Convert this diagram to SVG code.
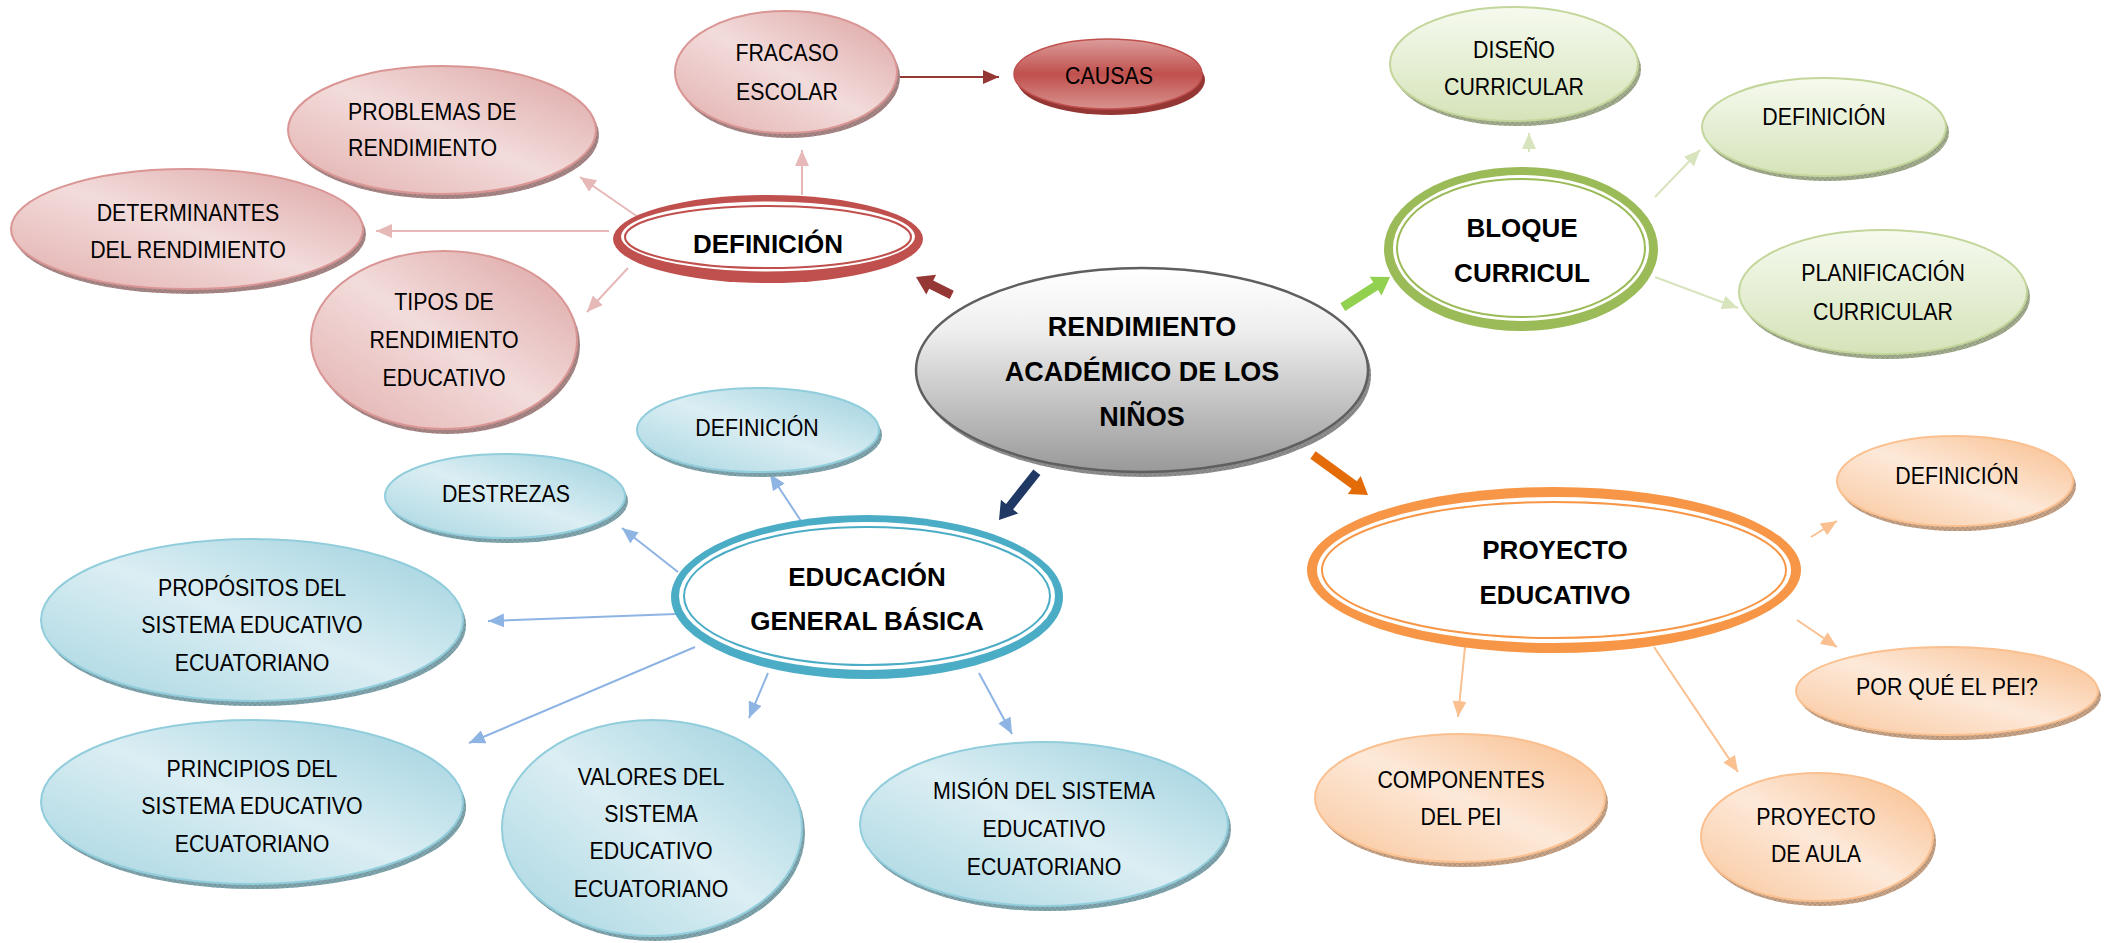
<svg xmlns="http://www.w3.org/2000/svg" width="2114" height="943" viewBox="0 0 2114 943">
<style>
  .t { font-family: "Liberation Sans", Arial, sans-serif; font-size: 24px; fill: #000; text-anchor: middle; }
  .ts { font-family: "Liberation Sans", Arial, sans-serif; font-size: 24px; fill: #000; text-anchor: start; }
  .b { font-family: "Liberation Sans", Arial, sans-serif; font-size: 26px; font-weight: bold; fill: #000; text-anchor: middle; }
  .bc { font-family: "Liberation Sans", Arial, sans-serif; font-size: 27px; font-weight: bold; fill: #000; text-anchor: middle; }
  .pink { fill: url(#gPink); stroke: #D99694; stroke-width: 2; }
  .blue { fill: url(#gBlue); stroke: #92CDDC; stroke-width: 2; }
  .orange { fill: url(#gOrange); stroke: #FAC090; stroke-width: 2; }
  .green { fill: url(#gGreen); stroke: #C3D69B; stroke-width: 2; }
  .shPink { fill: #A98686; }
  .shBlue { fill: #7FA6AF; }
  .shOrange { fill: #C9A386; }
  .shGreen { fill: #A2AD8D; }
  .shGray { fill: #8E8E8E; }
  .hatch { fill: url(#hatch); }
  .cPink { stroke: #E6B9B8; stroke-width: 2; fill: none; marker-end: url(#mPink); }
  .cGreen { stroke: #D7E4BD; stroke-width: 2; fill: none; marker-end: url(#mGreen); }
  .cBlue { stroke: #8EB4E3; stroke-width: 2; fill: none; marker-end: url(#mBlue); }
  .cOrange { stroke: #FAC090; stroke-width: 2; fill: none; marker-end: url(#mOrange); }
  .cDark { stroke: #953735; stroke-width: 2; fill: none; marker-end: url(#mDark); }
</style>
<defs>
  <linearGradient id="gPink" x1="1" y1="0" x2="0" y2="1">
    <stop offset="0" stop-color="#DCA3A2"/>
    <stop offset="0.5" stop-color="#F2DCDB"/>
    <stop offset="1" stop-color="#E2AEAD"/>
  </linearGradient>
  <linearGradient id="gBlue" x1="1" y1="0" x2="0" y2="1">
    <stop offset="0" stop-color="#9CD0DE"/>
    <stop offset="0.5" stop-color="#DBEEF3"/>
    <stop offset="1" stop-color="#A6D5E1"/>
  </linearGradient>
  <linearGradient id="gOrange" x1="1" y1="0" x2="0" y2="1">
    <stop offset="0" stop-color="#F8BC8A"/>
    <stop offset="0.5" stop-color="#FDE9D9"/>
    <stop offset="1" stop-color="#F9C69B"/>
  </linearGradient>
  <linearGradient id="gGreen" x1="0" y1="0" x2="0" y2="1">
    <stop offset="0" stop-color="#F6FAEF"/>
    <stop offset="1" stop-color="#D5E3B9"/>
  </linearGradient>
  <linearGradient id="gGray" x1="0" y1="0" x2="0" y2="1">
    <stop offset="0" stop-color="#FFFFFF"/>
    <stop offset="0.3" stop-color="#EFEFEF"/>
    <stop offset="1" stop-color="#999999"/>
  </linearGradient>
  <linearGradient id="gCausas" x1="0" y1="0" x2="0" y2="1">
    <stop offset="0" stop-color="#DC9D9B"/>
    <stop offset="0.5" stop-color="#C0504D"/>
    <stop offset="1" stop-color="#D8928F"/>
  </linearGradient>
  <pattern id="hatch" width="5" height="5" patternUnits="userSpaceOnUse">
    <path d="M0,5 L5,0 M0,0 L5,5" stroke="#555555" stroke-width="0.6" stroke-opacity="0.35"/>
  </pattern>
  <marker id="mPink" markerUnits="userSpaceOnUse" markerWidth="16" markerHeight="14" refX="16" refY="7" orient="auto">
    <path d="M0,0 L16,7 L0,14 Z" fill="#E6B9B8"/>
  </marker>
  <marker id="mGreen" markerUnits="userSpaceOnUse" markerWidth="16" markerHeight="14" refX="16" refY="7" orient="auto">
    <path d="M0,0 L16,7 L0,14 Z" fill="#D7E4BD"/>
  </marker>
  <marker id="mBlue" markerUnits="userSpaceOnUse" markerWidth="16" markerHeight="14" refX="16" refY="7" orient="auto">
    <path d="M0,0 L16,7 L0,14 Z" fill="#8EB4E3"/>
  </marker>
  <marker id="mOrange" markerUnits="userSpaceOnUse" markerWidth="16" markerHeight="14" refX="16" refY="7" orient="auto">
    <path d="M0,0 L16,7 L0,14 Z" fill="#FAC090"/>
  </marker>
  <marker id="mDark" markerUnits="userSpaceOnUse" markerWidth="16" markerHeight="14" refX="16" refY="7" orient="auto">
    <path d="M0,0 L16,7 L0,14 Z" fill="#953735"/>
  </marker>
</defs>

<rect x="0" y="0" width="2114" height="943" fill="#FFFFFF"/>

<!-- connectors -->
<g id="connectors">
  <line class="cPink" x1="802" y1="195" x2="802" y2="150"/>
  <line class="cPink" x1="638" y1="217" x2="580" y2="177"/>
  <line class="cPink" x1="609" y1="231" x2="376" y2="231"/>
  <line class="cPink" x1="628" y1="268" x2="587" y2="312"/>
  <line class="cDark" x1="899" y1="77" x2="999" y2="77"/>
  <line class="cGreen" x1="1529" y1="152" x2="1529" y2="133"/>
  <line class="cGreen" x1="1655" y1="197" x2="1700" y2="150"/>
  <line class="cGreen" x1="1655" y1="277" x2="1738" y2="308"/>
  <line class="cBlue" x1="801" y1="521" x2="770" y2="474"/>
  <line class="cBlue" x1="678" y1="572" x2="622" y2="528"/>
  <line class="cBlue" x1="676" y1="614" x2="488" y2="621"/>
  <line class="cBlue" x1="695" y1="647" x2="469" y2="743"/>
  <line class="cBlue" x1="768" y1="673" x2="749" y2="718"/>
  <line class="cBlue" x1="979" y1="673" x2="1012" y2="734"/>
  <line class="cOrange" x1="1811" y1="537" x2="1837" y2="521"/>
  <line class="cOrange" x1="1797" y1="620" x2="1837" y2="647"/>
  <line class="cOrange" x1="1465" y1="647" x2="1458" y2="717"/>
  <line class="cOrange" x1="1654" y1="647" x2="1738" y2="772"/>
  <!-- thick arrows from the central node -->
  <path d="M-40,-4.5 H-17 V-11 L0,0 L-17,11 V4.5 H-40 Z" fill="#953735" transform="translate(916 277) rotate(206.57)"/>
  <path d="M-56,-4.5 H-17 V-11 L0,0 L-17,11 V4.5 H-56 Z" fill="#92D050" transform="translate(1390 277) rotate(-32.55)"/>
  <path d="M-61,-4.5 H-17 V-11 L0,0 L-17,11 V4.5 H-61 Z" fill="#1F3864" transform="translate(999 520) rotate(128.37)"/>
  <path d="M-68,-4.5 H-17 V-11 L0,0 L-17,11 V4.5 H-68 Z" fill="#E36C09" transform="translate(1368 495) rotate(36.03)"/>
</g>

<!-- central node -->
<g id="n-center">
  <ellipse cx="1145" cy="375" rx="226" ry="102" class="shGray"/>
  <ellipse cx="1145" cy="375" rx="226" ry="102" class="hatch"/>
  <ellipse cx="1142" cy="370" rx="226" ry="102" fill="url(#gGray)" stroke="#5F5F5F" stroke-width="2.5"/>
  <text class="bc" x="1142" y="336">RENDIMIENTO</text>
  <text class="bc" x="1142" y="381">ACADÉMICO DE LOS</text>
  <text class="bc" x="1142" y="426">NIÑOS</text>
</g>

<!-- red branch -->
<g id="n-def-red">
  <ellipse cx="768" cy="239" rx="155" ry="44" fill="#C0504D"/>
  <ellipse cx="768" cy="236.5" rx="147" ry="35" fill="#FFFFFF"/>
  <ellipse cx="768" cy="237" rx="143" ry="31" fill="none" stroke="#C0504D" stroke-width="2"/>
  <text class="b" x="768" y="253">DEFINICIÓN</text>
</g>
<g id="n-fracaso">
  <ellipse cx="789" cy="77" rx="111" ry="61" class="shPink"/>
  <ellipse cx="789" cy="77" rx="111" ry="61" class="hatch"/>
  <ellipse cx="786" cy="72" rx="111" ry="61" class="pink"/>
  <g transform="translate(787 0) scale(0.89 1)">
    <text class="t" x="0" y="61">FRACASO</text>
    <text class="t" x="0" y="100">ESCOLAR</text>
  </g>
</g>
<g id="n-causas">
  <ellipse cx="1111" cy="80" rx="94" ry="35" fill="#943634"/>
  <ellipse cx="1108" cy="74" rx="94" ry="35" fill="url(#gCausas)" stroke="#C0504D" stroke-width="1.5"/>
  <g transform="translate(1109 0) scale(0.89 1)">
    <text class="t" x="0" y="84">CAUSAS</text>
  </g>
</g>
<g id="n-problemas">
  <ellipse cx="445" cy="135" rx="154" ry="64" class="shPink"/>
  <ellipse cx="445" cy="135" rx="154" ry="64" class="hatch"/>
  <ellipse cx="442" cy="130" rx="154" ry="64" class="pink"/>
  <g transform="translate(348 0) scale(0.89 1)">
    <text class="ts" x="0" y="120">PROBLEMAS DE</text>
    <text class="ts" x="0" y="156">RENDIMIENTO</text>
  </g>
</g>
<g id="n-determinantes">
  <ellipse cx="190" cy="234" rx="176" ry="60" class="shPink"/>
  <ellipse cx="190" cy="234" rx="176" ry="60" class="hatch"/>
  <ellipse cx="187" cy="229" rx="176" ry="60" class="pink"/>
  <g transform="translate(188 0) scale(0.89 1)">
    <text class="t" x="0" y="221">DETERMINANTES</text>
    <text class="t" x="0" y="258">DEL RENDIMIENTO</text>
  </g>
</g>
<g id="n-tipos">
  <ellipse cx="447" cy="345" rx="133" ry="89" class="shPink"/>
  <ellipse cx="447" cy="345" rx="133" ry="89" class="hatch"/>
  <ellipse cx="444" cy="340" rx="133" ry="89" class="pink"/>
  <g transform="translate(444 0) scale(0.89 1)">
    <text class="t" x="0" y="310">TIPOS DE</text>
    <text class="t" x="0" y="348">RENDIMIENTO</text>
    <text class="t" x="0" y="386">EDUCATIVO</text>
  </g>
</g>

<!-- green branch -->
<g id="n-bloque">
  <ellipse cx="1521" cy="249" rx="137" ry="82" fill="#9BBB59"/>
  <ellipse cx="1521" cy="248" rx="128" ry="73" fill="#FFFFFF"/>
  <ellipse cx="1521" cy="248" rx="124" ry="69" fill="none" stroke="#9BBB59" stroke-width="2"/>
  <text class="b" x="1522" y="237">BLOQUE</text>
  <text class="b" x="1522" y="282">CURRICUL</text>
</g>
<g id="n-diseno">
  <ellipse cx="1517" cy="69" rx="124" ry="57" class="shGreen"/>
  <ellipse cx="1517" cy="69" rx="124" ry="57" class="hatch"/>
  <ellipse cx="1514" cy="64" rx="124" ry="57" class="green"/>
  <g transform="translate(1514 0) scale(0.89 1)">
    <text class="t" x="0" y="58">DISEÑO</text>
    <text class="t" x="0" y="95">CURRICULAR</text>
  </g>
</g>
<g id="n-def-green">
  <ellipse cx="1827" cy="132" rx="122" ry="49" class="shGreen"/>
  <ellipse cx="1827" cy="132" rx="122" ry="49" class="hatch"/>
  <ellipse cx="1824" cy="127" rx="122" ry="49" class="green"/>
  <g transform="translate(1824 0) scale(0.89 1)">
    <text class="t" x="0" y="125">DEFINICIÓN</text>
  </g>
</g>
<g id="n-planificacion">
  <ellipse cx="1886" cy="297" rx="144" ry="62" class="shGreen"/>
  <ellipse cx="1886" cy="297" rx="144" ry="62" class="hatch"/>
  <ellipse cx="1883" cy="292" rx="144" ry="62" class="green"/>
  <g transform="translate(1883 0) scale(0.89 1)">
    <text class="t" x="0" y="281">PLANIFICACIÓN</text>
    <text class="t" x="0" y="320">CURRICULAR</text>
  </g>
</g>

<!-- blue branch -->
<g id="n-educacion">
  <ellipse cx="867" cy="597" rx="196" ry="82" fill="#4BACC6"/>
  <ellipse cx="867" cy="596" rx="188" ry="74" fill="#FFFFFF"/>
  <ellipse cx="867" cy="596" rx="183" ry="69" fill="none" stroke="#4BACC6" stroke-width="2"/>
  <text class="b" x="867" y="586">EDUCACIÓN</text>
  <text class="b" x="867" y="630">GENERAL BÁSICA</text>
</g>
<g id="n-def-blue">
  <ellipse cx="761" cy="435" rx="121" ry="42" class="shBlue"/>
  <ellipse cx="761" cy="435" rx="121" ry="42" class="hatch"/>
  <ellipse cx="758" cy="430" rx="121" ry="42" class="blue"/>
  <g transform="translate(757 0) scale(0.89 1)">
    <text class="t" x="0" y="436">DEFINICIÓN</text>
  </g>
</g>
<g id="n-destrezas">
  <ellipse cx="508" cy="501" rx="120" ry="42" class="shBlue"/>
  <ellipse cx="508" cy="501" rx="120" ry="42" class="hatch"/>
  <ellipse cx="505" cy="496" rx="120" ry="42" class="blue"/>
  <g transform="translate(506 0) scale(0.89 1)">
    <text class="t" x="0" y="502">DESTREZAS</text>
  </g>
</g>
<g id="n-propositos">
  <ellipse cx="255" cy="625" rx="211" ry="81" class="shBlue"/>
  <ellipse cx="255" cy="625" rx="211" ry="81" class="hatch"/>
  <ellipse cx="252" cy="620" rx="211" ry="81" class="blue"/>
  <g transform="translate(252 0) scale(0.89 1)">
    <text class="t" x="0" y="596">PROPÓSITOS DEL</text>
    <text class="t" x="0" y="633">SISTEMA EDUCATIVO</text>
    <text class="t" x="0" y="671">ECUATORIANO</text>
  </g>
</g>
<g id="n-principios">
  <ellipse cx="255" cy="807" rx="211" ry="82" class="shBlue"/>
  <ellipse cx="255" cy="807" rx="211" ry="82" class="hatch"/>
  <ellipse cx="252" cy="802" rx="211" ry="82" class="blue"/>
  <g transform="translate(252 0) scale(0.89 1)">
    <text class="t" x="0" y="777">PRINCIPIOS DEL</text>
    <text class="t" x="0" y="814">SISTEMA EDUCATIVO</text>
    <text class="t" x="0" y="852">ECUATORIANO</text>
  </g>
</g>
<g id="n-valores">
  <ellipse cx="655" cy="833" rx="150" ry="108" class="shBlue"/>
  <ellipse cx="655" cy="833" rx="150" ry="108" class="hatch"/>
  <ellipse cx="652" cy="828" rx="150" ry="108" class="blue"/>
  <g transform="translate(651 0) scale(0.89 1)">
    <text class="t" x="0" y="785">VALORES DEL</text>
    <text class="t" x="0" y="822">SISTEMA</text>
    <text class="t" x="0" y="859">EDUCATIVO</text>
    <text class="t" x="0" y="897">ECUATORIANO</text>
  </g>
</g>
<g id="n-mision">
  <ellipse cx="1047" cy="829" rx="184" ry="82" class="shBlue"/>
  <ellipse cx="1047" cy="829" rx="184" ry="82" class="hatch"/>
  <ellipse cx="1044" cy="824" rx="184" ry="82" class="blue"/>
  <g transform="translate(1044 0) scale(0.89 1)">
    <text class="t" x="0" y="799">MISIÓN DEL SISTEMA</text>
    <text class="t" x="0" y="837">EDUCATIVO</text>
    <text class="t" x="0" y="875">ECUATORIANO</text>
  </g>
</g>

<!-- orange branch -->
<g id="n-proyecto">
  <ellipse cx="1554" cy="570" rx="247" ry="83" fill="#F79646"/>
  <ellipse cx="1554" cy="570" rx="237" ry="73" fill="#FFFFFF"/>
  <ellipse cx="1554" cy="570" rx="232" ry="68" fill="none" stroke="#F79646" stroke-width="2"/>
  <text class="b" x="1555" y="559">PROYECTO</text>
  <text class="b" x="1555" y="604">EDUCATIVO</text>
</g>
<g id="n-def-orange">
  <ellipse cx="1958" cy="486" rx="118" ry="45" class="shOrange"/>
  <ellipse cx="1958" cy="486" rx="118" ry="45" class="hatch"/>
  <ellipse cx="1955" cy="481" rx="118" ry="45" class="orange"/>
  <g transform="translate(1957 0) scale(0.89 1)">
    <text class="t" x="0" y="484">DEFINICIÓN</text>
  </g>
</g>
<g id="n-porque">
  <ellipse cx="1950" cy="696" rx="151" ry="44" class="shOrange"/>
  <ellipse cx="1950" cy="696" rx="151" ry="44" class="hatch"/>
  <ellipse cx="1947" cy="691" rx="151" ry="44" class="orange"/>
  <g transform="translate(1947 0) scale(0.89 1)">
    <text class="t" x="0" y="695">POR QUÉ EL PEI?</text>
  </g>
</g>
<g id="n-componentes">
  <ellipse cx="1463" cy="803" rx="145" ry="64" class="shOrange"/>
  <ellipse cx="1463" cy="803" rx="145" ry="64" class="hatch"/>
  <ellipse cx="1460" cy="798" rx="145" ry="64" class="orange"/>
  <g transform="translate(1461 0) scale(0.89 1)">
    <text class="t" x="0" y="788">COMPONENTES</text>
    <text class="t" x="0" y="825">DEL PEI</text>
  </g>
</g>
<g id="n-aula">
  <ellipse cx="1820" cy="842" rx="116" ry="64" class="shOrange"/>
  <ellipse cx="1820" cy="842" rx="116" ry="64" class="hatch"/>
  <ellipse cx="1817" cy="837" rx="116" ry="64" class="orange"/>
  <g transform="translate(1816 0) scale(0.89 1)">
    <text class="t" x="0" y="825">PROYECTO</text>
    <text class="t" x="0" y="862">DE AULA</text>
  </g>
</g>
</svg>
